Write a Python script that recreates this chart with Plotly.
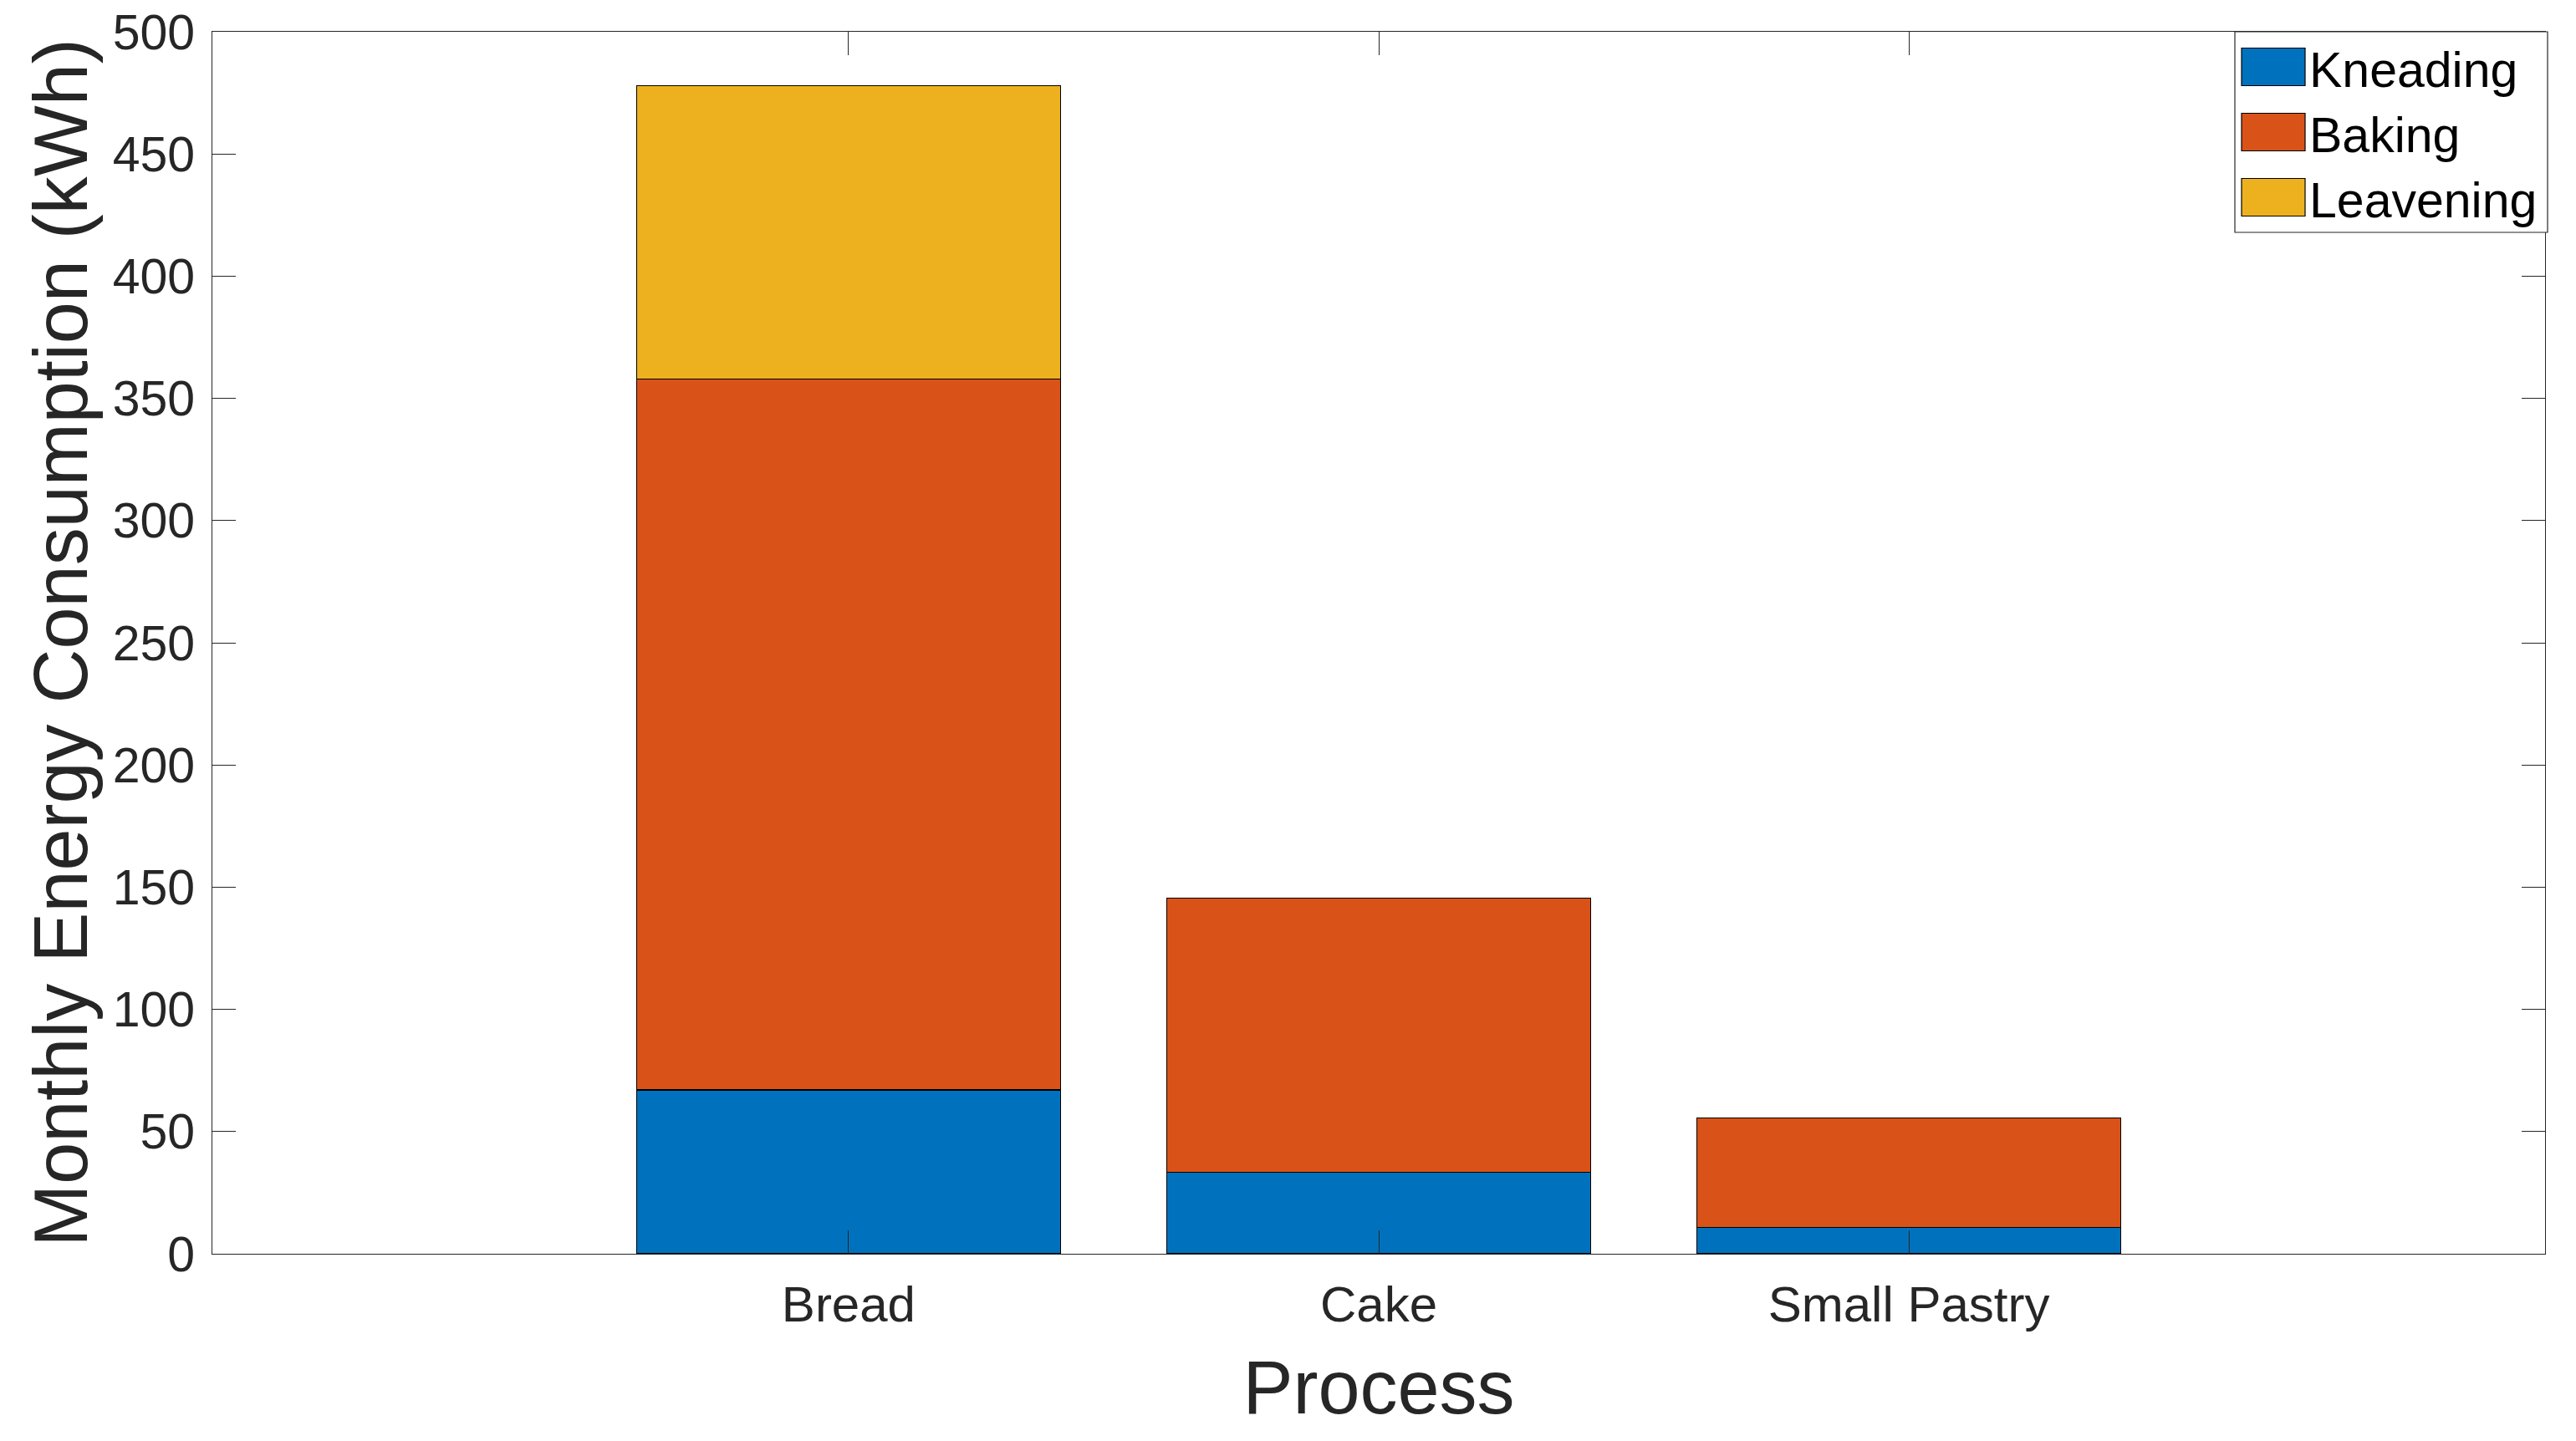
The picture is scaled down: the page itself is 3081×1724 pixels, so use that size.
import plotly.graph_objects as go

categories = ["Bread", "Cake", "Small Pastry"]
series_names = ["Kneading", "Baking", "Leavening"]
kneading = [67.0, 33.4, 10.8]
baking = [290.9, 112.0, 44.8]
leavening = [120.1, 0.0, 0.0]
series_values = [kneading, baking, leavening]
colors = ["#0072BD", "#D95319", "#EDB120"]
y_ticks = list(range(0, 501, 50))

W, H = 3081, 1724
L, R, T, B = 254, 37, 38, 224
PW, PH = W - L - R, H - T - B
FONT = "Liberation Sans, Arial, Helvetica, sans-serif"
AX = "#262626"

fig = go.Figure()
for name, vals, col in zip(series_names, series_values, colors):
    fig.add_trace(go.Bar(
        x=categories, y=vals, name=name, width=0.8,
        marker=dict(color=col, line=dict(color="black", width=1.2)),
        showlegend=False,
    ))

# manual MATLAB-style legend (pixel layout converted to paper coords)
def px(xp):
    return (xp - L) / PW

def py(yp):
    return (H - B - yp) / PH

shapes = [dict(type="rect", xref="paper", yref="paper",
               x0=px(2673), x1=px(3047), y0=py(278), y1=py(38),
               line=dict(color=AX, width=1.2), fillcolor="white", layer="above")]
annotations = []
row_centers = [80, 158, 236]
for name, col, yc in zip(series_names, colors, row_centers):
    shapes.append(dict(type="rect", xref="paper", yref="paper",
                       x0=px(2681), x1=px(2757), y0=py(yc + 22.5), y1=py(yc - 22.5),
                       line=dict(color="black", width=1.2), fillcolor=col, layer="above"))
    annotations.append(dict(xref="paper", yref="paper", x=px(2760), y=py(yc + 4),
                            xanchor="left", yanchor="middle", text=name, showarrow=False,
                            font=dict(family=FONT, size=59, color="black")))

fig.update_layout(
    width=W, height=H, barmode="stack",
    paper_bgcolor="white", plot_bgcolor="white",
    margin=dict(l=L, r=R, t=T, b=B, autoexpand=False),
    font=dict(family=FONT, color=AX),
    shapes=shapes, annotations=annotations,
    showlegend=False,
)
fig.update_xaxes(
    range=[-1.2, 3.2], showline=True, mirror="ticks", linecolor=AX, linewidth=1.2,
    ticks="inside", ticklen=28, tickwidth=1.2, tickcolor=AX,
    tickfont=dict(family=FONT, size=60, color=AX), showgrid=False, zeroline=False,
    title=dict(text="Process", font=dict(family=FONT, size=90, color=AX), standoff=34),
    ticklabelstandoff=8,
)
fig.update_yaxes(
    range=[0, 500], tickvals=y_ticks, showline=True, mirror="ticks", linecolor=AX, linewidth=1.2,
    ticks="inside", ticklen=28, tickwidth=1.2, tickcolor=AX,
    tickfont=dict(family=FONT, size=59, color=AX), showgrid=False, zeroline=False,
    title=dict(text="Monthly Energy Consumption (kWh)", font=dict(family=FONT, size=90, color=AX), standoff=0),
    ticklabelstandoff=8,
)

fig.write_html("out.html", config={"displayModeBar": False},
               post_script="document.body.style.margin='0';document.body.style.overflow='hidden';")
